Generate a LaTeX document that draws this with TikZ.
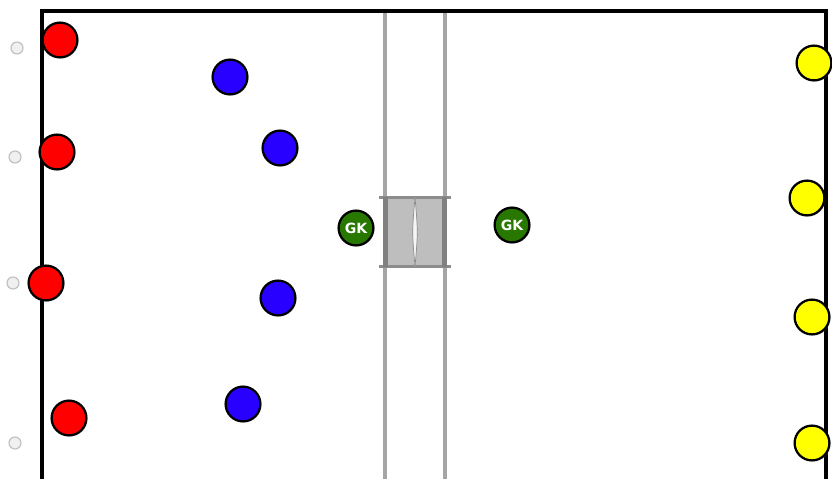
\documentclass[tikz,border=0pt]{standalone}
\usepackage{fontspec}
\setsansfont{DejaVu Sans}
\definecolor{pitchred}{RGB}{255,0,0}
\definecolor{pitchblue}{RGB}{40,0,255}
\definecolor{pitchgreen}{RGB}{40,120,0}
\definecolor{pitchyellow}{RGB}{255,255,0}
\definecolor{linegray}{RGB}{165,165,165}
\definecolor{goalgray}{RGB}{190,190,190}
\usetikzlibrary{shadows}

\begin{document}
\begin{tikzpicture}[
    x=0.025cm, y=-0.025cm,
    player/.style={circle, draw=black, line width=1.6pt, minimum size=0.87cm,
                   inner sep=0pt, drop shadow={opacity=0.35, shadow xshift=0.8pt, shadow yshift=-0.8pt}},
    keeper/.style={player, fill=pitchgreen, text=white, font=\sffamily\bfseries\fontsize{10}{10}\selectfont},
    cone/.style={circle, draw=black!25, fill=black!6, line width=0.8pt, minimum size=0.3cm, inner sep=0pt}
  ]
    \useasboundingbox (0,0) rectangle (832,479);

    % pitch outline
    \draw[line width=2.2pt] (42,479) -- (42,11) -- (826,11) -- (826,479);

    % channel lines
    \coordinate (c1t) at (385,13);
    \coordinate (c1b) at (385,479);
    \coordinate (c2t) at (445,13);
    \coordinate (c2b) at (445,479);
    \draw[linegray, line width=2.8pt] (c1t) -- (c1b);
    \draw[linegray, line width=2.8pt] (c2t) -- (c2b);

    % goal
    \node[rectangle, fill=goalgray, minimum width=1.45cm, minimum height=1.72cm,
          inner sep=0pt] (goal) at (415,232) {};
    \draw[black!45, line width=2pt] ([xshift=-5]goal.north west) -- ([xshift=5]goal.north east);
    \draw[black!45, line width=2pt] ([xshift=-5]goal.south west) -- ([xshift=5]goal.south east);
    \draw[black!50, line width=3.2pt] (goal.north west) -- (goal.south west);
    \draw[black!50, line width=3.2pt] (goal.north east) -- (goal.south east);
    \draw[black!45, line width=0.5pt, fill=white!85!goalgray] (goal.north) .. controls (412,232) .. (goal.south)
      .. controls (418,232) .. (goal.north);

    % cones
    \foreach \n/\x/\y in {1/17/48, 2/15/157, 3/13/283, 4/15/443}{
      \node[cone] (cone\n) at (\x,\y) {};
    }

    % red team
    \foreach \n/\x/\y in {1/60/40, 2/57/152, 3/46/283, 4/69/418}{
      \node[player, fill=pitchred] (r\n) at (\x,\y) {};
    }

    % blue team
    \foreach \n/\x/\y in {1/230/77, 2/280/148, 3/278/298, 4/243/404}{
      \node[player, fill=pitchblue] (b\n) at (\x,\y) {};
    }

    % yellow team
    \foreach \n/\x/\y in {1/814/63, 2/807/198, 3/812/317, 4/812/443}{
      \node[player, fill=pitchyellow] (y\n) at (\x,\y) {};
    }

    % keepers
    \node[keeper] (gk1) at (356,228) {GK};
    \node[keeper] (gk2) at (512,225) {GK};
  \end{tikzpicture}
\end{document}
